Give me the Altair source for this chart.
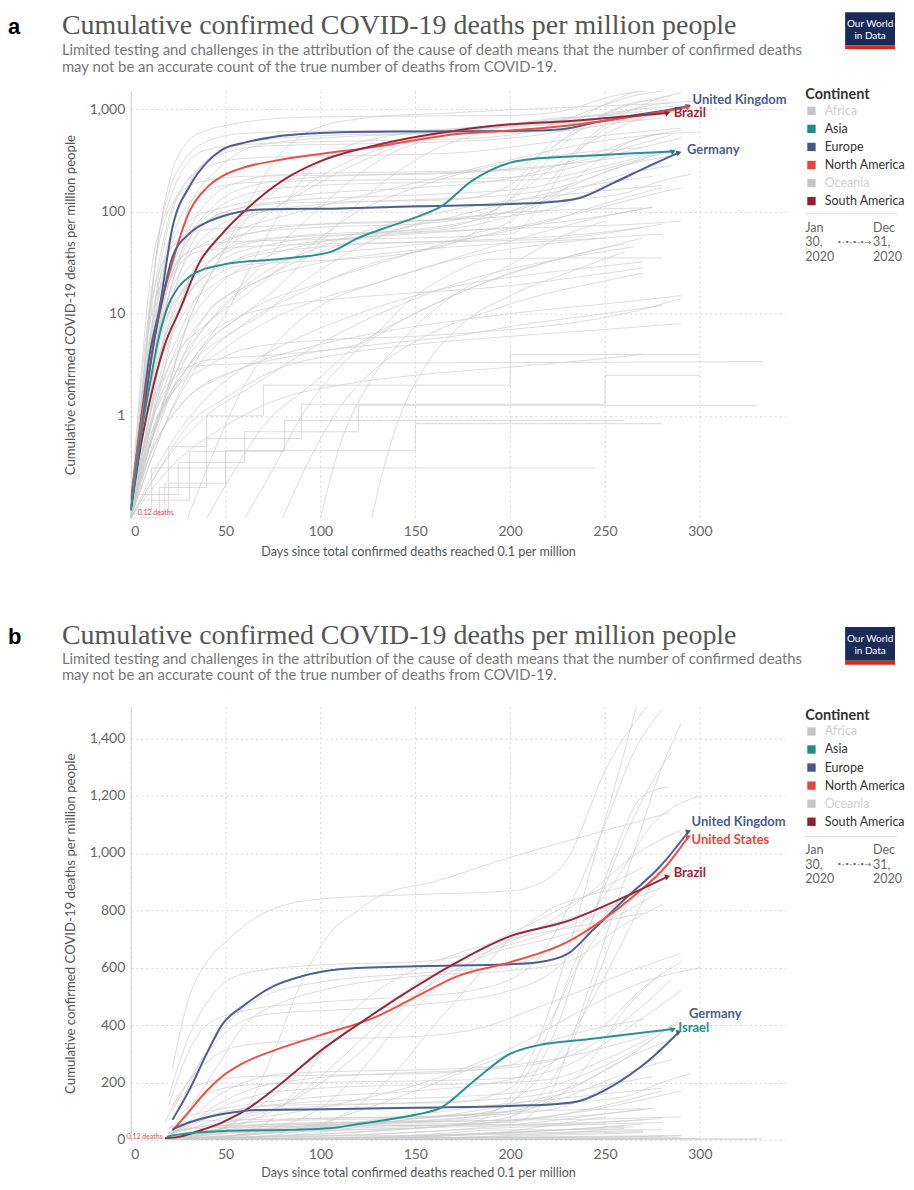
import altair as alt
import pandas as pd

# ---------------- highlighted countries (day, deaths per million) ----------------
uk_days = [0, 3, 6, 10, 15, 22, 31, 40, 48, 60, 75, 90, 110, 150, 200, 214, 230, 244, 262, 279, 294]
uk_vals = [0.12, 0.4, 1.1, 4, 11, 70, 175, 300, 400, 470, 535, 570, 595, 605, 612, 618, 647, 734, 849, 953, 1075]

us_days = [0, 3, 6, 10, 15, 22, 31, 40, 48, 60, 75, 100, 128, 149, 172, 200, 230, 247, 265, 282, 294]
us_vals = [0.15, 0.4, 1, 3, 10, 32, 100, 170, 220, 270, 310, 365, 425, 494, 570, 619, 689, 758, 849, 953, 1057]

br_days = [0, 6, 12, 18, 26, 36, 48, 59, 80, 100, 126, 142, 170, 200, 230, 254, 283]
br_vals = [0.12, 0.6, 2, 5, 11, 31, 60, 97, 200, 310, 430, 500, 612, 710, 762, 828, 918]

de_days = [0, 4, 8, 12, 16, 22, 31, 40, 48, 66, 110, 150, 200, 225, 237, 254, 272, 289]
de_vals = [0.12, 0.4, 1.5, 5, 12, 36, 61, 78, 89, 104, 107, 112, 118, 125, 136, 188, 271, 376]

il_days = [0, 5, 10, 14, 19, 25, 31, 48, 84, 105, 120, 140, 152, 163, 180, 200, 215, 240, 265, 286]
il_vals = [0.12, 0.6, 2, 5, 11, 18, 23, 30, 35, 40, 55, 75, 90, 110, 200, 300, 330, 350, 370, 386]

highlight = [
    ("United Kingdom", "Europe", uk_days, uk_vals),
    ("United States", "North America", us_days, us_vals),
    ("Brazil", "South America", br_days, br_vals),
    ("Germany", "Europe", de_days, de_vals),
    ("Israel", "Asia", il_days, il_vals),
]

# ---------------- other countries (grey), (day, deaths per million) ----------------
grey_01 = [(0, 0.12), (5, 1.2), (10, 10), (15, 60), (22, 250), (30, 480), (40, 620), (50, 690), (70, 790), (100, 840), (150, 855), (200, 868), (210, 880), (230, 978), (251, 1300), (275, 1535)]
grey_02 = [(0, 0.1), (8, 0.5), (15, 2), (25, 6), (40, 20), (60, 30), (100, 33), (150, 40), (180, 60), (200, 150), (215, 300), (230, 550), (245, 800), (260, 1050), (275, 1250), (285, 1350)]
grey_03 = [(0, 0.12), (10, 2), (20, 20), (30, 40), (50, 50), (100, 53), (150, 55), (200, 60), (220, 150), (235, 400), (250, 700), (265, 1000), (280, 1300), (290, 1450)]
grey_04 = [(0, 0.1), (5, 1), (10, 10), (15, 60), (20, 150), (30, 350), (45, 520), (60, 580), (100, 610), (150, 620), (180, 650), (210, 720), (240, 850), (265, 990), (290, 1080)]
grey_05 = [(0, 0.12), (5, 1), (10, 5), (15, 20), (25, 100), (35, 250), (50, 400), (70, 500), (100, 550), (150, 580), (200, 610), (230, 700), (255, 900), (275, 1100), (300, 1200)]
grey_06 = [(0, 0.12), (10, 0.6), (20, 2), (30, 8), (45, 30), (60, 100), (75, 300), (90, 550), (105, 720), (120, 800), (131, 850), (160, 900), (200, 985), (240, 1060), (284, 1140)]
grey_07 = [(0, 0.1), (10, 0.5), (20, 2), (30, 8), (45, 30), (60, 80), (80, 180), (100, 300), (130, 450), (160, 580), (190, 660), (220, 720), (250, 800), (275, 900)]
grey_08 = [(0, 0.12), (10, 1), (20, 5), (30, 20), (50, 60), (80, 120), (120, 300), (150, 500), (180, 650), (210, 750), (240, 850), (270, 950)]
grey_09 = [(0, 0.1), (5, 0.8), (10, 5), (15, 25), (22, 100), (30, 200), (40, 300), (55, 400), (75, 440), (100, 450), (150, 470), (200, 520), (225, 600), (245, 750), (260, 850), (280, 920), (295, 960)]
grey_10 = [(0, 0.12), (5, 1), (10, 3), (20, 20), (30, 100), (45, 250), (60, 400), (80, 480), (100, 520), (150, 570), (200, 590), (230, 620), (260, 750), (280, 820)]
grey_11 = [(0, 0.12), (4, 1), (8, 6), (14, 40), (22, 120), (35, 190), (60, 220), (100, 225), (150, 230), (200, 260), (220, 400), (235, 600), (250, 750), (265, 850), (285, 950)]
grey_12 = [(0, 0.1), (5, 1), (10, 8), (18, 60), (25, 150), (40, 270), (60, 330), (100, 350), (150, 360), (190, 400), (210, 450), (230, 500), (260, 580), (290, 650)]
grey_13 = [(0, 0.1), (10, 0.5), (30, 3), (60, 10), (100, 20), (150, 40), (180, 60), (200, 80), (215, 150), (230, 300), (245, 550), (260, 800), (270, 900)]
grey_14 = [(0, 0.12), (10, 1), (20, 8), (40, 30), (60, 50), (100, 60), (150, 65), (180, 80), (200, 130), (220, 250), (240, 450), (260, 700), (275, 900)]
grey_15 = [(0, 0.1), (20, 1), (40, 5), (60, 10), (80, 20), (100, 50), (120, 120), (140, 240), (160, 400), (180, 550), (200, 700), (220, 800), (240, 850), (260, 880)]
grey_16 = [(0, 0.1), (10, 0.5), (25, 3), (40, 10), (60, 20), (80, 50), (100, 110), (120, 230), (140, 390), (160, 520), (180, 620), (200, 700), (230, 770), (260, 830), (280, 880)]
grey_17 = [(0, 0.1), (15, 1), (30, 3), (50, 10), (70, 50), (90, 200), (110, 400), (130, 520), (160, 620), (200, 700), (240, 750), (270, 790)]
grey_18 = [(0, 0.12), (6, 1), (12, 8), (20, 40), (30, 80), (50, 110), (100, 150), (150, 170), (200, 210), (230, 300), (250, 400), (270, 530), (290, 620)]
grey_19 = [(0, 0.1), (5, 1), (10, 6), (20, 40), (35, 65), (60, 70), (100, 75), (150, 80), (200, 100), (225, 150), (245, 300), (260, 450), (280, 580)]
grey_20 = [(0, 0.12), (5, 1), (10, 8), (20, 25), (40, 50), (60, 70), (90, 100), (120, 140), (150, 190), (180, 260), (210, 350), (240, 460), (270, 550), (300, 600)]
grey_21 = [(0, 0.1), (5, 1), (10, 10), (20, 40), (40, 80), (60, 100), (100, 105), (150, 110), (200, 120), (230, 130), (260, 150), (280, 200), (295, 230)]
grey_22 = [(0, 0.1), (5, 0.7), (10, 5), (20, 20), (35, 40), (60, 45), (100, 48), (150, 50), (200, 52), (230, 55), (260, 65), (280, 75)]
grey_23 = [(0, 0.12), (8, 1), (16, 6), (30, 20), (50, 40), (80, 55), (120, 60), (160, 65), (200, 90), (230, 150), (260, 230), (285, 280)]
grey_24 = [(0, 0.1), (5, 0.6), (12, 4), (20, 15), (30, 60), (45, 150), (60, 200), (80, 230), (120, 240), (160, 245), (200, 260), (230, 290), (260, 340), (285, 390)]
grey_25 = [(0, 0.12), (5, 1), (10, 4), (20, 10), (40, 30), (60, 60), (80, 120), (100, 220), (130, 400), (160, 550), (190, 650), (220, 700), (250, 760), (275, 850)]
grey_26 = [(0, 0.1), (10, 1), (20, 3), (40, 8), (60, 15), (90, 40), (120, 100), (150, 170), (180, 250), (210, 320), (240, 380), (270, 420)]
grey_27 = [(0, 0.12), (15, 1), (30, 3), (50, 6), (70, 10), (90, 20), (110, 35), (130, 55), (150, 75), (180, 90), (210, 100), (240, 105), (270, 108)]
grey_28 = [(0, 0.1), (10, 0.6), (25, 2), (45, 4), (70, 8), (100, 14), (130, 20), (160, 30), (190, 40), (220, 48), (250, 55), (280, 60)]
grey_29 = [(0, 0.1), (20, 0.5), (40, 1.5), (60, 3), (90, 6), (120, 10), (150, 15), (180, 20), (210, 24), (240, 28), (270, 32)]
grey_30 = [(0, 0.12), (10, 0.5), (20, 1.5), (40, 3), (60, 4.5), (100, 5.5), (150, 6), (200, 7), (230, 8), (260, 10), (290, 14)]
grey_31 = [(0, 0.12), (5, 0.5), (10, 1.2), (15, 2), (20, 2.5), (30, 3), (50, 3.2), (80, 3.3), (150, 3.3), (250, 3.35), (333, 3.4)]
grey_32 = [(0, 0.1), (15, 0.3), (30, 0.8), (50, 1.5), (80, 3), (110, 4), (150, 5), (200, 6), (250, 7), (290, 8)]
grey_33 = [(0, 0.1), (8, 0.5), (15, 1.5), (25, 2.5), (40, 3.5), (80, 4), (120, 5), (150, 15), (170, 25), (190, 34), (220, 35), (280, 35)]
grey_34 = [(127, 0.1), (135, 0.4), (142, 1), (155, 3), (175, 8), (200, 15), (230, 25), (260, 40)]
grey_35 = [(60, 0.1), (75, 0.3), (90, 1), (110, 3), (140, 8), (170, 15), (200, 25), (240, 40), (270, 55)]
grey_36 = [(100, 0.1), (110, 0.5), (125, 2), (145, 6), (170, 15), (200, 30), (230, 60), (250, 80)]
grey_37 = [(0, 0.1), (5, 0.5), (15, 3), (30, 15), (50, 35), (80, 50), (120, 60), (160, 70), (200, 100), (230, 170), (260, 280), (285, 350)]
grey_38 = [(0, 0.12), (8, 1.5), (15, 15), (25, 80), (40, 160), (60, 190), (100, 200), (150, 205), (200, 215), (230, 260), (260, 380), (290, 520)]
grey_39 = [(0, 0.12), (5, 2), (10, 20), (20, 120), (30, 300), (40, 400), (60, 450), (100, 480), (150, 500), (180, 520), (210, 600), (230, 800), (250, 1100), (265, 1350), (280, 1500)]
grey_40 = [(0, 0.1), (6, 0.8), (15, 4), (30, 15), (50, 30), (80, 45), (120, 55), (160, 62), (200, 70), (240, 85), (275, 110)]
grey_41 = [(0, 0.12), (10, 1.5), (25, 8), (45, 20), (70, 30), (100, 38), (140, 45), (180, 55), (220, 80), (250, 120), (280, 170)]
grey_42 = [(0, 0.1), (12, 0.7), (25, 3), (45, 10), (70, 25), (100, 45), (130, 70), (160, 95), (190, 120), (220, 140), (250, 160), (280, 180)]
grey_43 = [(0, 0.12), (8, 0.6), (20, 2), (35, 5), (55, 9), (80, 12), (110, 14), (150, 16), (190, 18), (230, 22), (270, 28)]
grey_44 = [(0, 0.1), (15, 0.8), (30, 4), (50, 12), (75, 25), (100, 40), (130, 60), (160, 80), (190, 110), (220, 150), (250, 190), (275, 220)]
grey_45 = [(0, 0.12), (7, 2), (15, 12), (25, 40), (40, 80), (60, 110), (90, 130), (130, 140), (170, 150), (210, 170), (240, 230), (270, 330), (290, 420)]
grey_46 = [(0, 0.1), (20, 0.4), (40, 1), (65, 2), (90, 4), (120, 8), (150, 14), (180, 22), (210, 30), (240, 38), (265, 45)]
grey_47 = [(0, 0.12), (10, 0.8), (25, 5), (45, 18), (70, 35), (100, 50), (140, 60), (180, 66), (220, 70), (260, 74), (290, 80)]
grey_48 = [(0, 0.1), (8, 1), (18, 6), (35, 20), (60, 35), (100, 45), (150, 50), (200, 54), (240, 60), (270, 70)]
grey_49 = [(0, 0.12), (12, 0.5), (30, 1.5), (60, 3), (100, 5), (140, 7), (180, 9), (220, 11), (260, 13), (290, 15)]
grey_50 = [(0, 0.1), (10, 0.4), (25, 1.2), (50, 2.5), (90, 4), (130, 5), (170, 6), (210, 8), (250, 10), (280, 12)]
grey_51 = [(0, 0.12), (5, 0.8), (12, 5), (22, 25), (35, 70), (50, 120), (70, 160), (100, 180), (140, 190), (180, 195), (220, 210), (250, 280), (275, 360)]
grey_52 = [(30, 0.1), (45, 0.5), (60, 2), (80, 6), (100, 12), (130, 20), (160, 30), (190, 45), (220, 65), (250, 90), (275, 110)]
grey_53 = [(40, 0.1), (55, 0.3), (70, 0.8), (95, 2), (120, 5), (150, 10), (180, 18), (210, 28), (240, 40), (260, 48)]
grey_54 = [(0, 0.1), (15, 0.6), (35, 3), (60, 8), (90, 16), (120, 28), (150, 40), (180, 55), (210, 75), (240, 100), (270, 140), (290, 170)]
grey_55 = [(0, 0.12), (10, 2), (20, 15), (30, 50), (45, 120), (65, 180), (90, 210), (130, 230), (170, 240), (210, 260), (240, 320), (265, 440), (285, 560)]
grey_56 = [(0, 0.1), (20, 0.3), (50, 0.8), (80, 1.5), (110, 2), (150, 2.5), (200, 3), (240, 3.5), (270, 4)]
grey_57 = [(0, 0.12), (6, 1), (14, 6), (25, 20), (45, 45), (70, 65), (100, 75), (140, 80), (180, 85), (210, 95), (230, 120), (255, 200), (280, 300)]
grey_58 = [(0, 0.1), (10, 0.7), (22, 3), (40, 10), (65, 20), (95, 30), (130, 38), (170, 45), (210, 50), (250, 55)]
grey_59 = [(80, 0.1), (95, 0.4), (110, 1.2), (130, 3), (155, 6), (185, 10), (215, 15), (245, 20), (270, 25)]
grey_60 = [(0, 0.12), (8, 1.2), (16, 8), (28, 30), (45, 70), (70, 100), (110, 120), (150, 130), (190, 140), (225, 170), (255, 260), (285, 400)]
grey_61 = [(0, 0.1), (10, 1), (20, 10), (35, 60), (50, 100), (80, 120), (120, 125), (170, 130), (200, 180), (215, 350), (230, 650), (245, 1000), (258, 1300), (270, 1600)]
grey_62 = [(0, 0.12), (12, 1), (25, 10), (40, 40), (60, 60), (100, 70), (150, 75), (190, 100), (210, 200), (225, 400), (240, 700), (255, 1000), (270, 1200), (283, 1230)]

# small countries with a handful of deaths: step-shaped series
step_01 = [(0, 0.12), (11, 0.31), (245, 0.31)]
step_02 = [(0, 0.15), (31, 0.45), (81, 0.9), (260, 0.9)]
step_03 = [(0, 0.1), (15, 0.2), (40, 0.6), (90, 1.3), (250, 2.5), (300, 2.5)]
step_04 = [(0, 0.1), (20, 0.5), (40, 1), (70, 2), (200, 4), (300, 4)]
step_05 = [(0, 0.17), (25, 0.35), (60, 0.7), (120, 1.27), (330, 1.27)]
step_06 = [(0, 0.11), (18, 0.22), (50, 0.46), (150, 0.84), (280, 0.84)]

grey_smooth = [grey_01, grey_02, grey_03, grey_04, grey_05, grey_06, grey_07, grey_08, grey_09, grey_10,
               grey_11, grey_12, grey_13, grey_14, grey_15, grey_16, grey_17, grey_18, grey_19, grey_20,
               grey_21, grey_22, grey_23, grey_24, grey_25, grey_26, grey_27, grey_28, grey_29, grey_30,
               grey_31, grey_32, grey_33, grey_34, grey_35, grey_36, grey_37, grey_38, grey_39, grey_40,
               grey_41, grey_42, grey_43, grey_44, grey_45, grey_46, grey_47, grey_48, grey_49, grey_50,
               grey_51, grey_52, grey_53, grey_54, grey_55, grey_56, grey_57, grey_58, grey_59, grey_60,
               grey_61, grey_62]
grey_steps = [step_01, step_02, step_03, step_04, step_05, step_06]

continents = ["Africa", "Asia", "Europe", "North America", "Oceania", "South America"]
continent_colors = ["#c6c6c6", "#1f8c86", "#46568a", "#e5463f", "#c6c6c6", "#921d31"]
line_colors = {"Asia": "#2a938d", "Europe": "#515f8e", "North America": "#e8524b", "South America": "#97293b"}
label_colors = {"United Kingdom": "#4d5c8c", "United States": "#e5463f", "Brazil": "#9a2437",
                "Germany": "#4d5c8c", "Israel": "#23908a"}

TITLE = "Cumulative confirmed COVID-19 deaths per million people"
SUB1 = "Limited testing and challenges in the attribution of the cause of death means that the number of confirmed deaths"
SUB2 = "may not be an accurate count of the true number of deaths from COVID-19."
Y_TITLE = "Cumulative confirmed COVID-19 deaths per million people"
X_TITLE = "Days since total confirmed deaths reached 0.1 per million"
X_TICKS = [0, 50, 100, 150, 200, 250, 300]

# ---------------- tables ----------------
hl_df = pd.concat([pd.DataFrame({"country": n, "continent": c, "day": d, "deaths": v})
                   for n, c, d, v in highlight], ignore_index=True)
end_df = hl_df.groupby("country", sort=False).tail(1).reset_index(drop=True)


def to_df(lines, prefix):
    rows = []
    for i, line in enumerate(lines):
        for d, v in line:
            rows.append({"country": f"{prefix}{i}", "day": d, "deaths": v})
    return pd.DataFrame(rows)


grey_df = to_df(grey_smooth, "g")
step_df = to_df(grey_steps, "s")
start_df = pd.DataFrame({"day": [0], "deaths": [0.12]})
one = pd.DataFrame({"k": [0]})

W = 656


def deco_text(s, x, y, **kw):
    return alt.Chart(one).mark_text(**kw).encode(x=alt.value(x), y=alt.value(y), text=alt.value(s))


def panel(letter):
    log = letter == "a"
    H = 428 if log else 434
    if log:
        y_scale = alt.Scale(type="log", domain=[0.1, 1500], nice=False)
        y_vals = [1, 10, 100, 1000]
        flt = "datum.day >= 0"
        tpos = (-57, -36, -19)
        yfmt = ","
        xlpad, xtpad = 6, 7
        leg_y, sep_y = -3, 123
    else:
        y_scale = alt.Scale(domain=[0, 1510], nice=False)
        y_vals = list(range(0, 1401, 200))
        flt = "datum.day >= 17"
        tpos = (-63, -43, -27)
        yfmt = ",.0f"
        xlpad, xtpad = 8, 5
        leg_y, sep_y = 2, 130

    x = alt.X("day:Q", scale=alt.Scale(domain=[0, 345], nice=False),
              axis=alt.Axis(values=X_TICKS, title=X_TITLE, titleX=288, titlePadding=xtpad,
                            labelPadding=xlpad, titleFontSize=12.6))
    y = alt.Y("deaths:Q", scale=y_scale,
              axis=alt.Axis(values=y_vals, format=yfmt, title=Y_TITLE, titlePadding=12,
                            labelPadding=6, titleFontSize=13.2))
    cscale = alt.Scale(domain=continents, range=continent_colors)

    grey = alt.Chart(grey_df).transform_filter(flt).mark_line(
        color="#cdcdcd", strokeWidth=1, opacity=0.7, interpolate="monotone", clip=True
    ).encode(x=x, y=y, detail="country:N")
    steps = alt.Chart(step_df).transform_filter(flt).mark_line(
        color="#cdcdcd", strokeWidth=1, opacity=0.7, interpolate="step-after", clip=True
    ).encode(x=x, y=y, detail="country:N")

    line_layers = [
        alt.Chart(hl_df).transform_filter(flt).transform_filter(alt.datum.country == n).mark_line(
            strokeWidth=2, interpolate="monotone", clip=True, color=line_colors[c]
        ).encode(x=x, y=y)
        for n, c, _, _ in highlight
    ]

    legend = alt.Legend(
        title="Continent", orient="none", legendX=676, legendY=leg_y,
        symbolType="square", symbolSize=70, symbolStrokeWidth=0, symbolOpacity=1,
        titleFont="Lato", titleFontSize=14.5, titleFontWeight="bold", titleColor="#333",
        labelFont="Lato", labelFontSize=12.5, labelOffset=7,
        labelColor=alt.ExprRef(expr="(datum.value == 'Africa' || datum.value == 'Oceania') ? '#cfcfcf' : '#333333'"),
        rowPadding=5.1, titlePadding=2,
    )
    ends = alt.Chart(end_df).mark_point(
        shape="triangle-right", filled=True, size=36, opacity=1, angle=340
    ).encode(x=x, y=y, color=alt.Color("continent:N", scale=cscale, legend=legend))

    if log:
        labs = [("United Kingdom", 4, -6), ("Brazil", 6, 0), ("Germany", 8, -3)]
    else:
        labs = [("United Kingdom", 3, -10), ("United States", 3, 3), ("Brazil", 6, -4),
                ("Germany", 10, -18), ("Israel", 5, -1)]
    label_layers = [
        alt.Chart(end_df).transform_filter(alt.datum.country == n).mark_text(
            align="left", baseline="middle", dx=dx, dy=dy, font="Lato", fontSize=13,
            fontWeight="bold", color=label_colors[n]
        ).encode(x=x, y=y, text="country:N")
        for n, dx, dy in labs
    ]

    if log:
        start_lab = alt.Chart(start_df).mark_text(
            align="left", baseline="middle", dx=7, dy=3, fontSize=7, font="Lato", color="#d9534f"
        ).encode(x=x, y=y, text=alt.value("0.12 deaths"))
    else:
        start_lab = alt.Chart(start_df).mark_text(
            align="left", baseline="middle", dx=-4, dy=-3, fontSize=7, font="Lato", color="#d9534f"
        ).encode(x=x, y=alt.value(H), text=alt.value("0.12 deaths"))

    top = -79 if log else -80
    deco = [
        deco_text(letter, -123, tpos[0], align="left", baseline="alphabetic",
                  font="Liberation Sans", fontSize=22, fontWeight="bold", color="#000"),
        deco_text(TITLE, -69, tpos[0], align="left", baseline="alphabetic",
                  font="Liberation Serif", fontSize=28, color="#555"),
        deco_text(SUB1, -69, tpos[1], align="left", baseline="alphabetic",
                  font="Lato", fontSize=14.9, color="#777"),
        deco_text(SUB2, -69, tpos[2], align="left", baseline="alphabetic",
                  font="Lato", fontSize=14.9, color="#777"),
        alt.Chart(one).mark_rect(color="#1a2b57").encode(
            x=alt.value(716), x2=alt.value(766), y=alt.value(top), y2=alt.value(-46)),
        alt.Chart(one).mark_rect(color="#d42b21").encode(
            x=alt.value(716), x2=alt.value(766), y=alt.value(-46), y2=alt.value(-42)),
        deco_text("Our World", 741, top + 12, align="center", baseline="middle",
                  font="Lato", fontSize=10, color="white"),
        deco_text("in Data", 741, top + 24, align="center", baseline="middle",
                  font="Lato", fontSize=10, color="white"),
        alt.Chart(one).mark_rule(color="#dddddd", strokeWidth=1).encode(
            x=alt.value(676), x2=alt.value(768), y=alt.value(sep_y)),
        deco_text(["Jan", "30,", "2020"], 676, sep_y + 8, align="left", baseline="top",
                  font="Lato", fontSize=12.5, color="#666", lineHeight=14.5),
        deco_text(["Dec", "31,", "2020"], 744, sep_y + 8, align="left", baseline="top",
                  font="Lato", fontSize=12.5, color="#666", lineHeight=14.5),
        deco_text("•-•-•-•→", 725, sep_y + 29, align="center", baseline="middle",
                  font="DejaVu Sans", fontSize=8, color="#666"),
    ]

    return alt.layer(grey, steps, *line_layers, ends, *label_layers, start_lab, *deco).properties(
        width=W, height=H)


chart = alt.vconcat(panel("a"), panel("b"), spacing=189, bounds="flush").resolve_scale(
    x="independent", y="independent", color="independent"
).resolve_legend(color="independent").properties(
    padding={"left": 0, "top": 3, "right": 0, "bottom": 0}
).configure_view(
    stroke=None
).configure_axis(
    labelFont="Lato", labelFontSize=14, labelColor="#666",
    titleFont="Lato", titleColor="#555", titleFontWeight="normal",
    gridColor="#d6d6d6", gridDash=[2, 3], gridWidth=1, ticks=False
).configure_axisX(domain=False).configure_axisY(domain=True, domainColor="#d0d0d0")

chart.save("out.html", embed_options={"renderer": "svg", "actions": False})
